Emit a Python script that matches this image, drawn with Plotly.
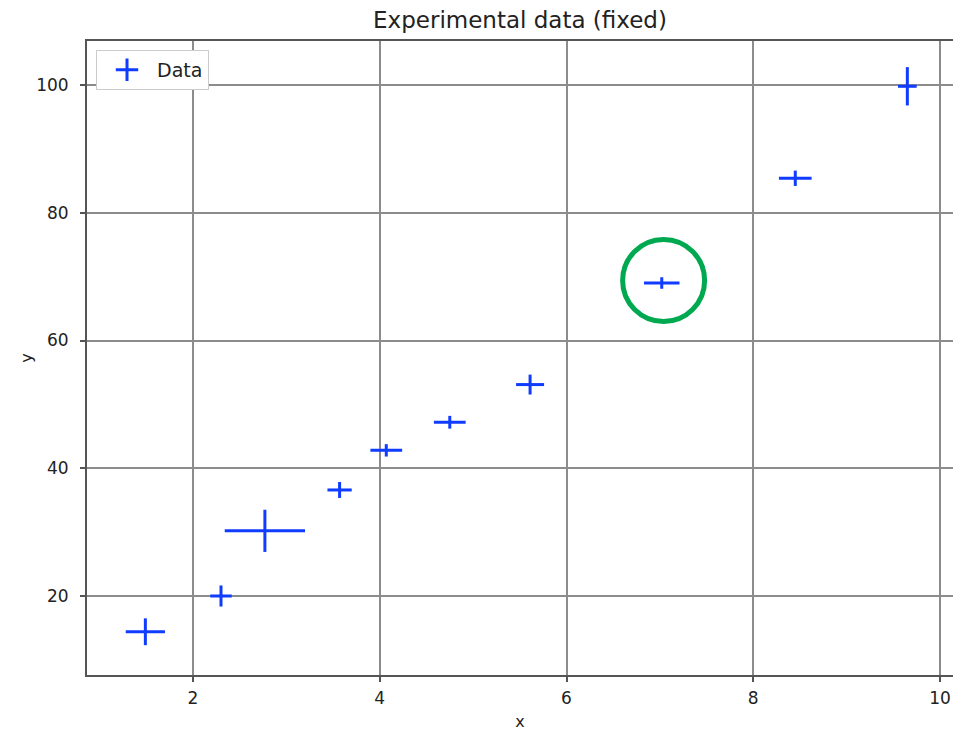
"""Experimental data with x/y error bars, one point circled."""

import plotly.graph_objects as go

# Measured points and their uncertainties
x_vals = [1.49, 2.30, 2.77, 3.57, 4.07, 4.75, 5.61, 7.02, 8.45, 9.65]
y_vals = [14.4, 20.0, 30.2, 36.6, 42.8, 47.2, 53.1, 69.0, 85.4, 99.8]
x_err = [0.21, 0.115, 0.43, 0.13, 0.17, 0.17, 0.15, 0.19, 0.175, 0.10]
y_err = [2.1, 1.65, 3.3, 1.25, 0.97, 1.0, 1.56, 0.9, 1.2, 3.0]

# Point highlighted by the green ring
highlight_x = 7.04
highlight_y = 69.4

blue = "#0f3cff"
green = "#00a84f"
grid = "#8c8c8c"
frame = "#555555"
font = "DejaVu Sans"

W, H = 953, 731

fig = go.Figure()

fig.add_trace(
    go.Scatter(
        x=x_vals,
        y=y_vals,
        mode="markers",
        marker=dict(size=1, color=blue, opacity=0),
        error_x=dict(type="data", array=x_err, width=0, thickness=3, color=blue),
        error_y=dict(type="data", array=y_err, width=0, thickness=3, color=blue),
        showlegend=False,
        hoverinfo="x+y",
    )
)

# Legend entry only: a "+" like matplotlib's errorbar handle
fig.add_trace(
    go.Scatter(
        x=[None],
        y=[None],
        mode="markers",
        name="Data",
        marker=dict(symbol="cross-thin", size=18, line=dict(width=3, color=blue), color=blue),
    )
)

fig.add_shape(
    type="circle",
    xref="x",
    yref="y",
    xsizemode="pixel",
    ysizemode="pixel",
    xanchor=highlight_x,
    yanchor=highlight_y,
    x0=-41,
    x1=41,
    y0=-41,
    y1=41,
    line=dict(color=green, width=5),
)

fig.update_layout(
    width=W,
    height=H,
    margin=dict(l=87, r=0, t=41, b=56),
    paper_bgcolor="white",
    plot_bgcolor="white",
    font=dict(family=font, size=17, color="#222222"),
    title=dict(
        text="Experimental data (fixed)",
        x=(87 + W) / 2 / W,
        xanchor="center",
        y=1 - 20 / H,
        yanchor="middle",
        font=dict(size=23, family=font, color="#222222"),
    ),
    xaxis=dict(
        title=dict(text="x", standoff=10, font=dict(size=16)),
        range=[0.865, 10.139],
        tickvals=[2, 4, 6, 8, 10],
        showgrid=True,
        gridcolor=grid,
        gridwidth=1.5,
        zeroline=False,
        showline=True,
        linecolor=frame,
        linewidth=2,
        mirror=True,
        ticks="outside",
        ticklen=5,
        tickwidth=1.5,
        tickcolor=frame,
        ticklabelstandoff=2,
    ),
    yaxis=dict(
        title=dict(text="y", standoff=0, font=dict(size=16)),
        range=[7.63, 106.89],
        tickvals=[20, 40, 60, 80, 100],
        showgrid=True,
        gridcolor=grid,
        gridwidth=1.5,
        zeroline=False,
        showline=True,
        linecolor=frame,
        linewidth=2,
        mirror=False,
        ticks="outside",
        ticklen=5,
        tickwidth=1.5,
        tickcolor=frame,
        ticklabelstandoff=8,
    ),
    showlegend=True,
    legend=dict(
        x=0.0104,
        y=0.986,
        xanchor="left",
        yanchor="top",
        bgcolor="white",
        bordercolor="#cccccc",
        borderwidth=1,
        itemwidth=50,
        font=dict(size=19),
    ),
)

# drop the default body margin so the figure fills the window exactly
fig.write_html(
    "out.html",
    config={"displayModeBar": False},
    post_script="document.body.style.margin='0';document.body.style.overflow='hidden';",
)
